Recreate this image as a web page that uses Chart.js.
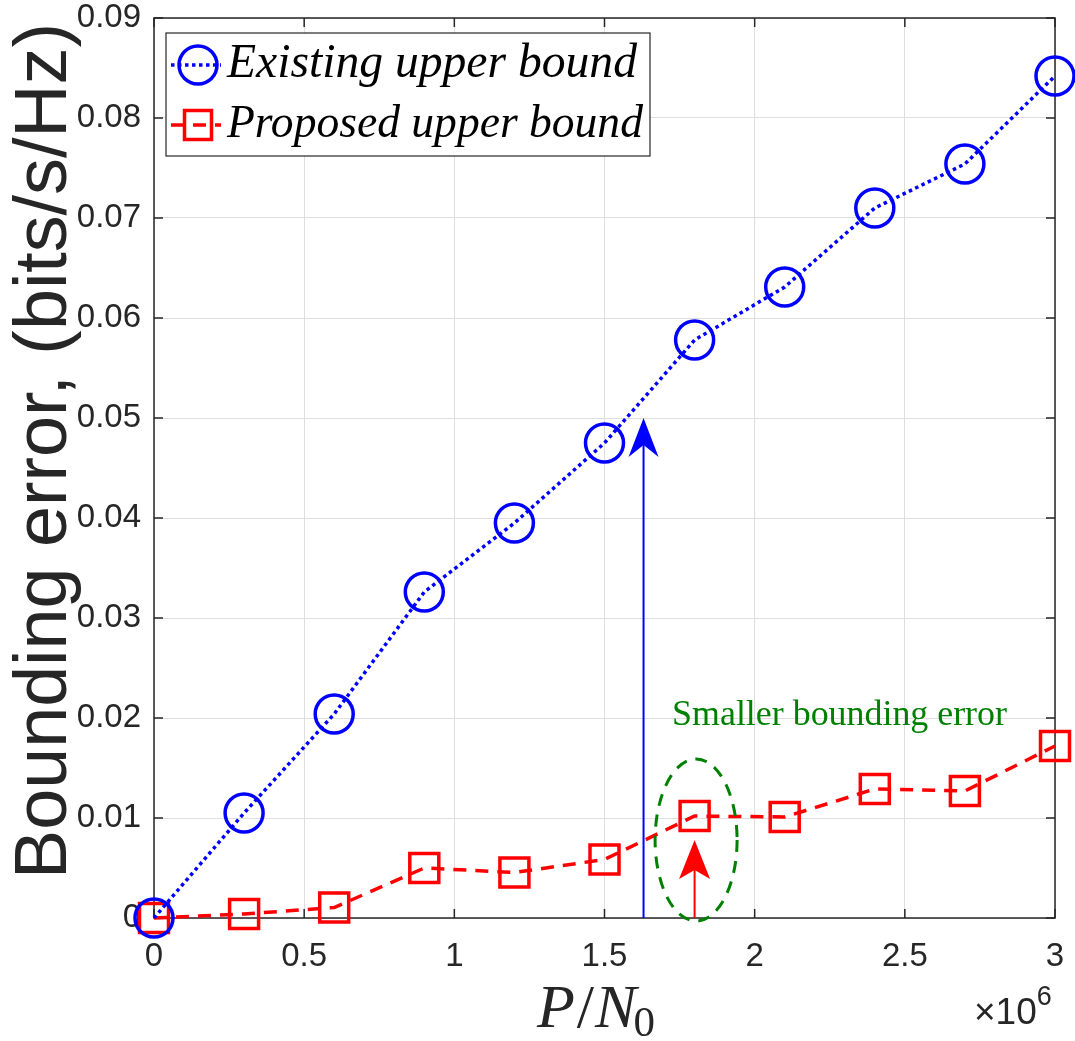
<!DOCTYPE html>
<html><head><meta charset="utf-8">
<script src="https://cdn.jsdelivr.net/npm/chart.js@4.4.1/dist/chart.umd.min.js"></script>
<style>html,body{margin:0;padding:0;background:#fff}#wrap{width:1075px;height:1041px;position:relative}</style>
</head><body><div id="wrap"><canvas id="c" width="1075" height="1041"></canvas></div>
<script>
// ---- data ----
const xValues = [0, 0.3e6, 0.6e6, 0.9e6, 1.2e6, 1.5e6, 1.8e6, 2.1e6, 2.4e6, 2.7e6, 3.0e6];
const existingBound = [0, 0.0105, 0.0204, 0.0326, 0.0395, 0.0475, 0.0578, 0.0631, 0.0710, 0.0754, 0.0842];
const proposedBound = [0, 0.0004, 0.00105, 0.0050, 0.00455, 0.00585, 0.0102, 0.0101, 0.0129, 0.0127, 0.0172];
const seriesLabels = ['Existing upper bound', 'Proposed upper bound'];
const xTickLabels = ['0', '0.5', '1', '1.5', '2', '2.5', '3'];
const yTickLabels = ['0', '0.01', '0.02', '0.03', '0.04', '0.05', '0.06', '0.07', '0.08', '0.09'];
const yAxisTitle = 'Bounding error, (bits/s/Hz)';
const annotationText = 'Smaller bounding error';
const blueArrow = {x: 1.63e6, from: 0, to: 0.05};
const redArrow = {x: 1.8e6, from: 0, to: 0.0078};
const ellipseAnno = {cx: 1.805e6, cy: 0.0078, rx: 0.1365e6, ry: 0.0081};
const textAnchor = {x: 1.725e6, y: 0.0193};

const AX = '#262626';
const SANS = '"Liberation Sans", Arial, sans-serif';
const SERIF = '"Liberation Serif", "Times New Roman", serif';

function fitFont(ctx, text, width, style, family) {
  ctx.font = style + ' 100px ' + family;
  const w = ctx.measureText(text).width;
  return style + ' ' + (100 * width / w).toFixed(2) + 'px ' + family;
}
function zeroPad(s) { s.paddingTop = 0; s.paddingBottom = 0; s.paddingLeft = 0; s.paddingRight = 0; }

const decor = {
  id: 'decor',
  beforeDatasetsDraw(chart) {
    const {ctx, chartArea: a, scales: {x, y}} = chart;
    ctx.save();
    ctx.strokeStyle = AX; ctx.lineWidth = 1.5;
    ctx.strokeRect(a.left, a.top, a.right - a.left, a.bottom - a.top);
    ctx.beginPath();
    x.ticks.forEach(t => {
      const px = x.getPixelForValue(t.value);
      ctx.moveTo(px, a.bottom); ctx.lineTo(px, a.bottom - 9);
      ctx.moveTo(px, a.top); ctx.lineTo(px, a.top + 9);
    });
    y.ticks.forEach(t => {
      const py = y.getPixelForValue(t.value);
      ctx.moveTo(a.left, py); ctx.lineTo(a.left + 9, py);
      ctx.moveTo(a.right, py); ctx.lineTo(a.right - 9, py);
    });
    ctx.stroke();
    ctx.restore();
  },
  afterDatasetsDraw(chart) {
    const {ctx, scales: {x, y}} = chart;
    ctx.save();
    function arrow(spec, color, hw, hl, notch) {
      const px = x.getPixelForValue(spec.x);
      const p0 = y.getPixelForValue(spec.from);
      const p1 = y.getPixelForValue(spec.to);
      ctx.strokeStyle = color; ctx.fillStyle = color; ctx.lineWidth = 2;
      ctx.beginPath(); ctx.moveTo(px, p0); ctx.lineTo(px, p1 + hl - notch); ctx.stroke();
      ctx.beginPath();
      ctx.moveTo(px, p1);
      ctx.lineTo(px - hw, p1 + hl);
      ctx.lineTo(px, p1 + hl - notch);
      ctx.lineTo(px + hw, p1 + hl);
      ctx.closePath(); ctx.fill();
    }
    arrow(blueArrow, '#0000ff', 15, 39, 12);
    arrow(redArrow, '#ff0000', 15.5, 39, 9);
    const cx = x.getPixelForValue(ellipseAnno.cx), cy = y.getPixelForValue(ellipseAnno.cy);
    const rx = x.getPixelForValue(ellipseAnno.cx + ellipseAnno.rx) - cx;
    const ry = cy - y.getPixelForValue(ellipseAnno.cy + ellipseAnno.ry);
    ctx.strokeStyle = '#008000'; ctx.lineWidth = 3; ctx.setLineDash([12, 9]);
    ctx.beginPath(); ctx.ellipse(cx, cy, rx, ry, 0, 0, Math.PI * 2); ctx.stroke();
    ctx.setLineDash([]);
    ctx.fillStyle = '#008000';
    ctx.font = fitFont(ctx, annotationText, 335, 'normal', SERIF);
    ctx.textBaseline = 'alphabetic'; ctx.textAlign = 'left';
    ctx.fillText(annotationText, x.getPixelForValue(textAnchor.x), y.getPixelForValue(textAnchor.y));
    ctx.restore();
  },
  afterDraw(chart) {
    const {ctx} = chart;
    ctx.save();
    // legend
    const bx = 166, by = 33, bw = 484, bh = 123;
    ctx.fillStyle = '#fff'; ctx.fillRect(bx, by, bw, bh);
    ctx.strokeStyle = AX; ctx.lineWidth = 1.2; ctx.strokeRect(bx, by, bw, bh);
    const rows = [65, 125];
    const ds = chart.data.datasets;
    rows.forEach((ry, i) => {
      const d = ds[i];
      ctx.strokeStyle = d.borderColor; ctx.lineWidth = d.borderWidth;
      ctx.setLineDash(d.borderDash);
      ctx.beginPath(); ctx.moveTo(171, ry); ctx.lineTo(221, ry); ctx.stroke();
      ctx.setLineDash([]);
      ctx.lineWidth = 3.5;
      ctx.beginPath();
      if (i === 0) ctx.arc(198, ry, 19, 0, Math.PI * 2);
      else ctx.rect(198 - 13.5, ry - 14.5, 27, 29);
      ctx.stroke();
      ctx.fillStyle = '#000';
      ctx.font = fitFont(ctx, seriesLabels[i], i === 0 ? 410 : 416, 'italic', SERIF);
      ctx.textBaseline = 'alphabetic'; ctx.textAlign = 'left';
      ctx.fillText(seriesLabels[i], 227, ry + 12);
    });
    // y title
    ctx.save();
    ctx.translate(66, 451); ctx.rotate(-Math.PI / 2);
    ctx.fillStyle = AX;
    ctx.font = fitFont(ctx, yAxisTitle, 856, 'normal', SANS);
    ctx.textAlign = 'center'; ctx.textBaseline = 'alphabetic';
    ctx.fillText(yAxisTitle, 0, 0);
    ctx.restore();
    // x title P/N0
    ctx.fillStyle = AX; ctx.textBaseline = 'alphabetic'; ctx.textAlign = 'left';
    let tx = 537; const base = 1027;
    ctx.font = 'italic 62px ' + SERIF; ctx.fillText('P', tx, base); tx += ctx.measureText('P').width + 2;
    ctx.font = 'normal 62px ' + SERIF; ctx.fillText('/', tx, base); tx += ctx.measureText('/').width + 1;
    ctx.font = 'italic 62px ' + SERIF; ctx.fillText('N', tx, base); tx += ctx.measureText('N').width - 3;
    ctx.font = 'normal 43px ' + SERIF; ctx.fillText('0', tx, base + 9);
    // exponent
    ctx.font = 'normal 37px ' + SANS;
    ctx.fillText('\u00d710', 974, 1024);
    const ew = ctx.measureText('\u00d710').width;
    ctx.font = 'normal 27px ' + SANS;
    ctx.fillText('6', 974 + ew, 1005);
    ctx.restore();
  }
};

const chart = new Chart(document.getElementById('c'), {
  type: 'line',
  data: {
    datasets: [
      {
        label: seriesLabels[0],
        data: xValues.map((v, i) => ({x: v, y: existingBound[i]})),
        borderColor: '#0000ff', borderWidth: 3.5, borderDash: [3.5, 3.5],
        pointStyle: 'circle', pointRadius: 19, pointBorderWidth: 3.5,
        pointBorderColor: '#0000ff', pointBackgroundColor: 'rgba(0,0,0,0)',
        fill: false, tension: 0, clip: false
      },
      {
        label: seriesLabels[1],
        data: xValues.map((v, i) => ({x: v, y: proposedBound[i]})),
        borderColor: '#ff0000', borderWidth: 3.5, borderDash: [13, 9],
        pointStyle: 'rect', pointRadius: 20.5, pointBorderWidth: 3.5,
        pointBorderColor: '#ff0000', pointBackgroundColor: 'rgba(0,0,0,0)',
        fill: false, tension: 0, clip: false
      }
    ]
  },
  options: {
    responsive: false, animation: false, events: [],
    layout: {autoPadding: false, padding: {top: 18, right: 20, left: 0, bottom: 0}},
    plugins: {legend: {display: false}, tooltip: {enabled: false}, title: {display: false}},
    scales: {
      x: {
        type: 'linear', min: 0, max: 3e6,
        afterBuildTicks: s => { s.ticks = xTickLabels.map(t => ({value: parseFloat(t) * 1e6})); },
        ticks: {
          callback: (v, i) => xTickLabels[i],
          font: {family: SANS, size: 33}, color: AX, padding: 19, maxRotation: 0, autoSkip: false
        },
        grid: {color: '#dedede', lineWidth: 1, drawTicks: false},
        border: {display: false},
        afterFit: s => { s.height = 123; zeroPad(s); }
      },
      y: {
        type: 'linear', min: 0, max: 0.09,
        afterBuildTicks: s => { s.ticks = yTickLabels.map(t => ({value: parseFloat(t)})); },
        ticks: {
          callback: (v, i) => yTickLabels[i],
          font: {family: SANS, size: 33}, color: AX, padding: 13, autoSkip: false
        },
        grid: {color: '#dedede', lineWidth: 1, drawTicks: false},
        border: {display: false},
        afterFit: s => { s.width = 154; zeroPad(s); }
      }
    }
  },
  plugins: [decor]
});
</script>
</body></html>
